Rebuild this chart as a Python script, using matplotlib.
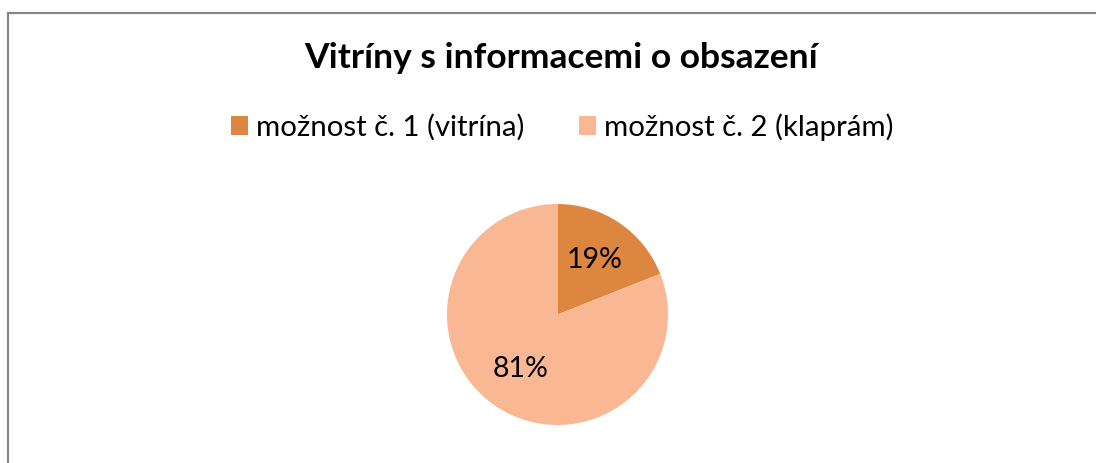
import matplotlib
matplotlib.use("Agg")
import matplotlib.pyplot as plt
from matplotlib.patches import Patch, Rectangle

title = "Vitríny s informacemi o obsazení"
categories = ["možnost č. 1 (vitrína)", "možnost č. 2 (klaprám)"]
values = [19, 81]
colors = ["#DD8640", "#F9B793"]

plt.rcParams['font.family'] = ['Lato', 'DejaVu Sans']

W, H = 1096, 463
fig = plt.figure(figsize=(W / 100, H / 100), dpi=100)
fig.patch.set_facecolor("white")

# chart border: only the left and top edges fall inside the image
fig.add_artist(Rectangle((8 / W, -0.5), 1.5, 1.5 - 12.5 / H, transform=fig.transFigure,
                         fill=False, edgecolor="#878787", linewidth=1.6))

fig.text(561 / W, 1 - 58 / H, title, ha="center", va="center",
         fontsize=25.5, fontweight="bold", color="black")

cx, cy, r = 557.5, 314.5, 110.5
ax = fig.add_axes([(cx - r) / W, 1 - (cy + r) / H, 2 * r / W, 2 * r / H])
wedges, texts, autotexts = ax.pie(values, colors=colors, startangle=90, counterclock=False,
                                  autopct="%1.0f%%", pctdistance=0.6,
                                  textprops=dict(fontsize=20.5, color="black"),
                                  wedgeprops=dict(linewidth=0))
ax.set_xlim(-1, 1)
ax.set_ylim(-1, 1)
ax.axis("off")

handles = [Patch(facecolor=c, edgecolor="none") for c in colors]
fig.legend(handles, categories, loc="center", bbox_to_anchor=(562.5 / W, 1 - 127 / H),
           ncol=2, frameon=False, fontsize=21.2, handlelength=0.58, handleheight=0.58,
           handletextpad=0.27, columnspacing=1.85)

fig.savefig("out.png", dpi=100, facecolor="white")
